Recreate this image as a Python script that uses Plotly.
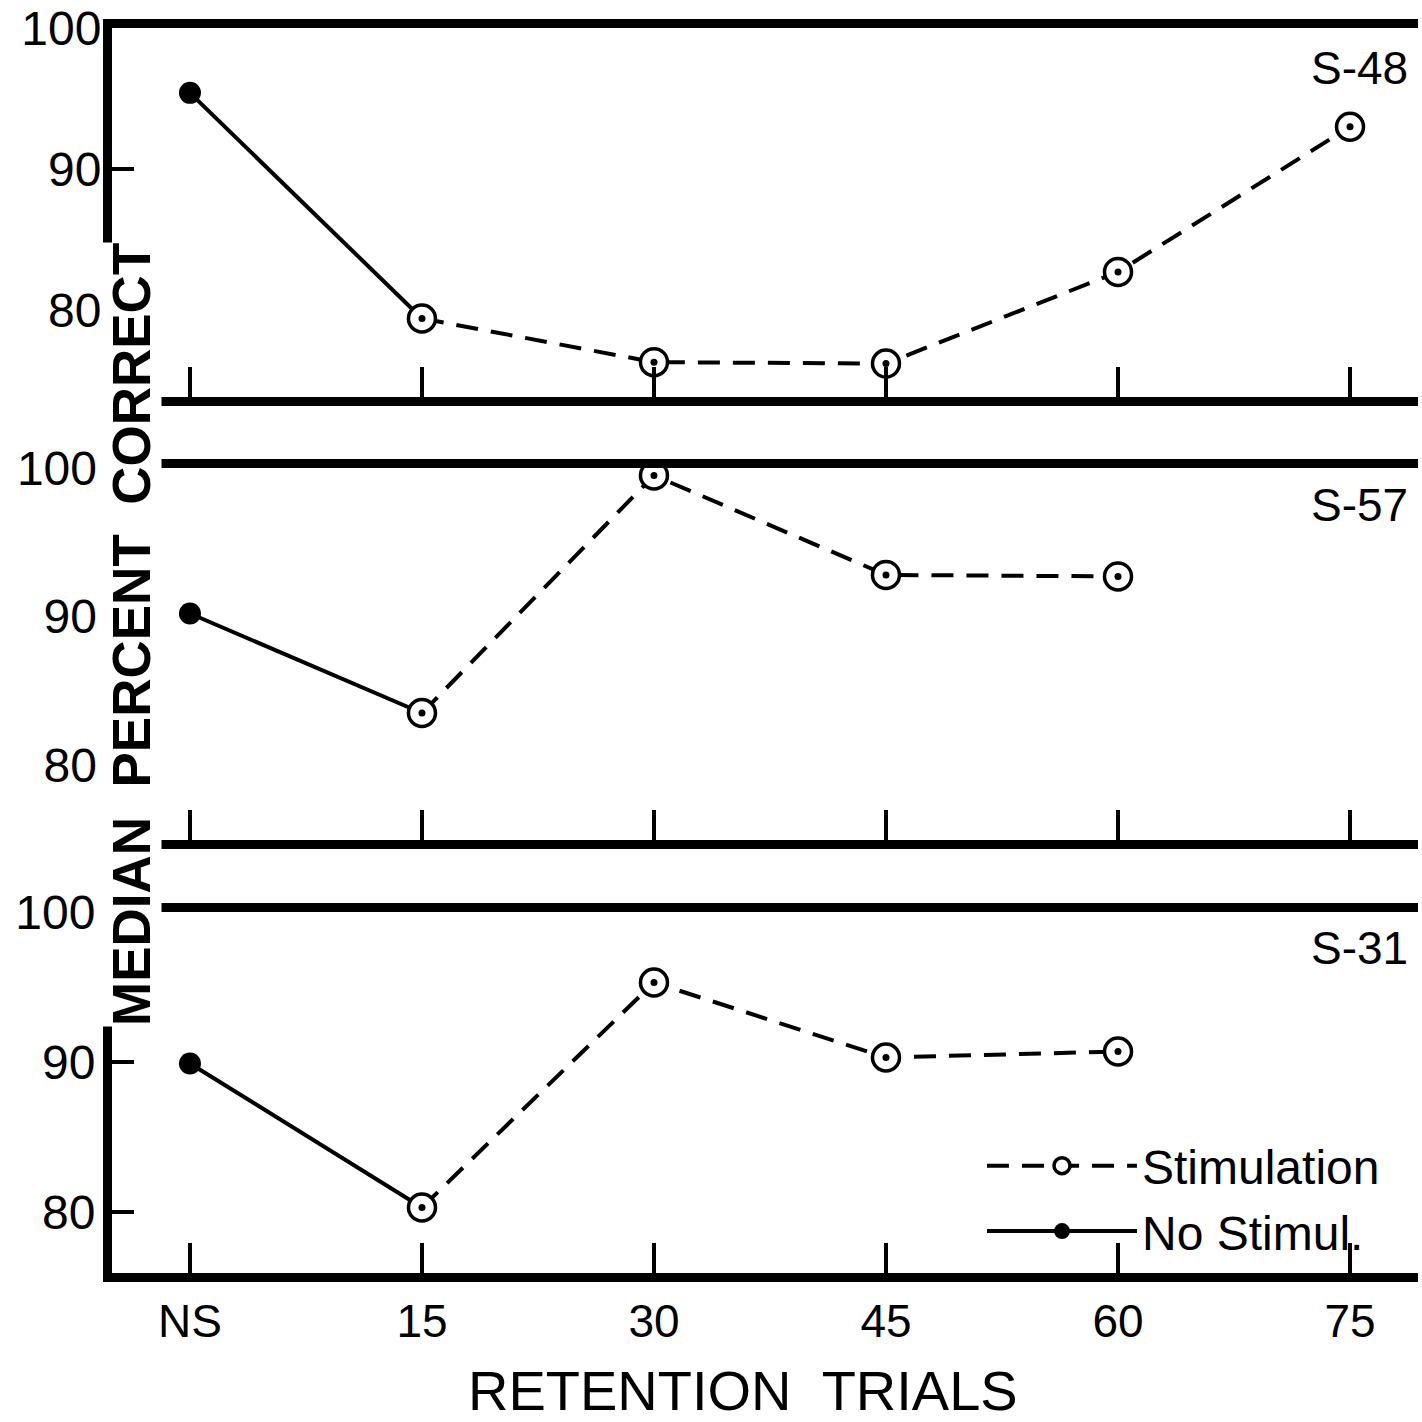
import plotly.graph_objects as go

# ---- data ----
categories = ["NS", "15", "30", "45", "60", "75"]
x_pos = [0, 1, 2, 3, 4, 5]

panels = ["S-48", "S-57", "S-31"]
no_stim = {  # NS value and the 15-trial value joined by the solid line
    "S-48": [95.4, 79.4],
    "S-57": [90.2, 83.5],
    "S-31": [89.9, 80.3],
}
stim = {  # retention-trial values (15 .. )
    "S-48": [79.4, 76.3, 76.2, 82.7, 93.0],
    "S-57": [83.5, 99.5, 92.8, 92.7],
    "S-31": [80.3, 95.3, 90.3, 90.7],
}
y_ranges = {"S-48": [73.83, 100], "S-57": [74.95, 100], "S-31": [75.93, 100]}
y_ticks = [80, 90, 100]

W = H = 1422
def py(px):
    return 1 - px / H

domains = {"S-48": [py(397), py(28)], "S-57": [py(840), py(468)], "S-31": [py(1273), py(912)]}
label_y = {"S-48": py(68), "S-57": py(505), "S-31": py(948)}
standoff = {"S-48": -8, "S-57": 14, "S-31": -2}

FONT = "Liberation Sans"
fig = go.Figure()

for i, p in enumerate(panels):
    ax = "" if i == 0 else str(i + 1)
    xa, ya = "x" + ax, "y" + ax
    last = i == 2
    # solid (no stimulation) segment
    fig.add_trace(go.Scatter(
        x=x_pos[:2], y=no_stim[p], xaxis=xa, yaxis=ya,
        mode="lines+markers", name="No Stimul.",
        line=dict(color="black", width=4),
        marker=dict(symbol="circle", size=22, color="black"),
        showlegend=last, legendrank=2, cliponaxis=False))
    # dashed (stimulation) segment
    xs = x_pos[1:1 + len(stim[p])]
    fig.add_trace(go.Scatter(
        x=xs, y=stim[p], xaxis=xa, yaxis=ya,
        mode="lines+markers", name="Stimulation",
        line=dict(color="black", width=4, dash="22px,13px"),
        marker=dict(symbol="circle", size=27, color="white",
                    line=dict(color="black", width=3.5)),
        showlegend=last, legendrank=1, cliponaxis=False))
    # center dots of the stimulation markers
    fig.add_trace(go.Scatter(
        x=xs, y=stim[p], xaxis=xa, yaxis=ya, mode="markers",
        marker=dict(symbol="circle", size=7, color="black"),
        showlegend=False, hoverinfo="skip", cliponaxis=False))

    fig.layout["xaxis" + ax] = dict(
        domain=[112 / W, 1418 / W], range=[-0.336, 5.293], anchor=ya,
        tickmode="array", tickvals=x_pos, ticktext=categories,
        ticks="inside", ticklen=30, tickwidth=4, tickcolor="black",
        showticklabels=last, tickfont=dict(family=FONT, size=46, color="black"),
        showline=True, linewidth=9, linecolor="black", mirror=True,
        showgrid=False, zeroline=False, automargin=False)
    fig.layout["yaxis" + ax] = dict(
        domain=domains[p], range=y_ranges[p], anchor=xa,
        tickmode="array", tickvals=y_ticks, ticktext=[str(t) for t in y_ticks],
        ticks="inside", ticklen=22, tickwidth=4, tickcolor="black",
        tickfont=dict(family=FONT, size=48, color="black"),
        ticklabelstandoff=standoff[p],
        showline=(i != 1), linewidth=9, linecolor="black",
        showgrid=False, zeroline=False, automargin=False)
    fig.add_annotation(text=p, xref="paper", yref="paper", x=1410 / W, y=label_y[p],
                       xanchor="right", yanchor="middle", showarrow=False,
                       font=dict(family=FONT, size=46, color="black"))

fig.add_annotation(text="MEDIAN  PERCENT  CORRECT", xref="paper", yref="paper",
                   x=131 / W, y=py(635), textangle=-90, showarrow=False,
                   xanchor="center", yanchor="middle", bgcolor="white", borderpad=0,
                   font=dict(family=FONT, size=53, color="black", weight="bold"))
fig.add_annotation(text="RETENTION  TRIALS", xref="paper", yref="paper",
                   x=743 / W, y=py(1390), showarrow=False,
                   xanchor="center", yanchor="middle",
                   font=dict(family=FONT, size=56, color="black"))

fig.update_layout(
    width=W, height=H, margin=dict(l=0, r=0, t=0, b=0),
    paper_bgcolor="white", plot_bgcolor="white",
    showlegend=True,
    legend=dict(x=982 / W, y=py(1128), xanchor="left", yanchor="top",
                bgcolor="rgba(0,0,0,0)", itemwidth=150,
                font=dict(family=FONT, size=48, color="black"),
                tracegroupgap=0),
)
fig.write_html("out.html")
